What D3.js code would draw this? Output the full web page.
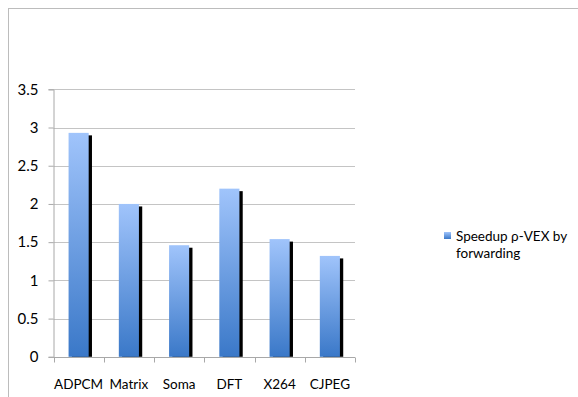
<!DOCTYPE html>
<html>
<head>
<meta charset="utf-8">
<script src="https://cdn.jsdelivr.net/npm/d3@7"></script>
<style>
  html, body { margin: 0; padding: 0; background: #fff; }
  svg { display: block; }
  text { font-family: Lato, "Open Sans", sans-serif; fill: #000; }
</style>
</head>
<body>
<svg id="chart" width="578" height="397"></svg>
<script>
// Benchmarks and measured speedup
const categories = ["ADPCM", "Matrix", "Soma", "DFT", "X264", "CJPEG"];
const speedup = [2.93, 2.0, 1.46, 2.2, 1.54, 1.32];
const yTicks = [0, 0.5, 1, 1.5, 2, 2.5, 3, 3.5];
const seriesName = ["Speedup ρ-VEX by", "forwarding"];

const svg = d3.select("#chart");
const W = 578, H = 397;

// Outer chart frame (continues past the right and bottom edges)
svg.append("rect")
  .attr("x", 8.5).attr("y", 8.5)
  .attr("width", W + 10).attr("height", H + 10)
  .attr("fill", "none").attr("stroke", "#bcbcbc").attr("stroke-width", 1);

const plot = { left: 53.5, right: 355, top: 89.3, bottom: 356.8 };

const x = d3.scaleBand().domain(categories).range([plot.left, plot.right]).paddingInner(0).paddingOuter(0);
const y = d3.scaleLinear().domain([0, 3.5]).range([plot.bottom, plot.top]);

// Gradient fill for the bars
const defs = svg.append("defs");
const grad = defs.append("linearGradient").attr("id", "barGrad")
  .attr("x1", 0).attr("y1", 0).attr("x2", 0).attr("y2", 1);
grad.append("stop").attr("offset", "0%").attr("stop-color", "#a0c4fb");
grad.append("stop").attr("offset", "100%").attr("stop-color", "#3a78c8");

// Horizontal gridlines
svg.append("g").selectAll("line").data(yTicks.filter(d => d > 0)).join("line")
  .attr("x1", plot.left).attr("x2", plot.right)
  .attr("y1", d => Math.round(y(d)) + 0.5).attr("y2", d => Math.round(y(d)) + 0.5)
  .attr("stroke", "#c4c4c4").attr("stroke-width", 1);

// Y axis
const yAxis = d3.axisLeft(y).tickValues(yTicks).tickSize(5).tickPadding(10).tickFormat(d3.format(""));
const gy = svg.append("g").attr("transform", `translate(${plot.left},0)`).call(yAxis);
gy.select(".domain").attr("stroke", "#a8a8a8");
gy.selectAll(".tick line").attr("stroke", "#a8a8a8");
gy.selectAll(".tick text").style("font-size", "15px").attr("fill", "#000");

// X axis with ticks between categories
const xAxisG = svg.append("g").attr("transform", `translate(0,${Math.round(plot.bottom) + 0.5})`);
xAxisG.append("line").attr("x1", plot.left).attr("x2", plot.right)
  .attr("stroke", "#a8a8a8");
const boundaries = categories.map(c => x(c)).concat([x(categories[categories.length - 1]) + x.bandwidth()]);
xAxisG.selectAll("line.tk").data(boundaries).join("line").attr("class", "tk")
  .attr("x1", d => Math.round(d) + 0.5).attr("x2", d => Math.round(d) + 0.5)
  .attr("y1", 0).attr("y2", 5).attr("stroke", "#a8a8a8");
xAxisG.selectAll("text").data(categories).join("text")
  .attr("x", d => x(d) + x.bandwidth() / 2)
  .attr("y", 31)
  .attr("text-anchor", "middle")
  .style("font-size", "13.5px")
  .text(d => d);

// Bars with a dark offset shadow
const barW = x.bandwidth() * 0.4;
const bars = svg.append("g").selectAll("g").data(categories.map((c, i) => ({ c, v: speedup[i] }))).join("g");
bars.append("rect")
  .attr("x", d => x(d.c) + (x.bandwidth() - barW) / 2 + 3.3)
  .attr("y", d => y(d.v) + 2.5)
  .attr("width", barW)
  .attr("height", d => y(0) - y(d.v) - 2.5)
  .attr("fill", "#000");
bars.append("rect")
  .attr("x", d => x(d.c) + (x.bandwidth() - barW) / 2)
  .attr("y", d => y(d.v))
  .attr("width", barW)
  .attr("height", d => y(0) - y(d.v))
  .attr("fill", "url(#barGrad)");

// Legend
const lg = svg.append("g").attr("transform", "translate(444,232)");
lg.append("rect").attr("width", 7).attr("height", 7).attr("fill", "url(#barGrad)");
lg.selectAll("text").data(seriesName).join("text")
  .attr("x", 12)
  .attr("y", (d, i) => 9 + i * 17)
  .style("font-size", "13.5px")
  .text(d => d);
</script>
</body>
</html>
